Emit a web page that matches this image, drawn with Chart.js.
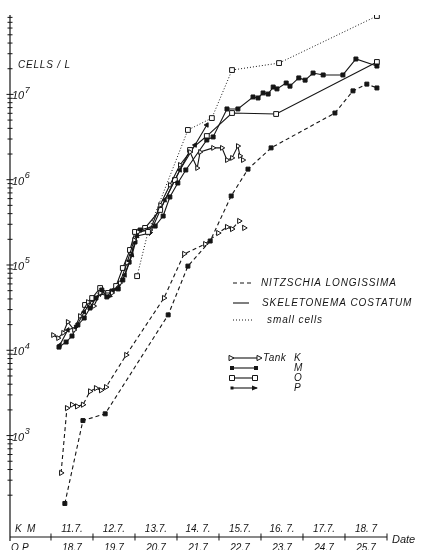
<!DOCTYPE html>
<html>
<head>
<meta charset="utf-8">
<script src="https://cdn.jsdelivr.net/npm/chart.js@4/dist/chart.umd.min.js"></script>
<style>
  html, body { margin: 0; padding: 0; background: #fff; }
  canvas { display: block; }
</style>
</head>
<body>
<canvas id="c" width="424" height="550"></canvas>
<script>
// Culture days (0 = start of 11.7. in tanks K/M, 18.7 in tanks O/P) and cell counts (cells per litre)

// Nitzschia longissima (dashed)
const nitzK_day   = [0.24, 0.38, 0.50, 0.62, 0.76, 0.93, 1.07, 1.19, 1.31, 1.79, 2.69, 3.17, 3.67, 3.98, 4.19, 4.31, 4.48, 4.60];
const nitzK_cells = [365, 2100, 2300, 2200, 2300, 3300, 3600, 3400, 3700, 8800, 41000, 135000, 176000, 237000, 279000, 264000, 328000, 272000];

const nitzM_day   = [0.33, 0.76, 1.29, 2.79, 3.26, 3.79, 4.29, 4.69, 5.24, 6.76, 7.19, 7.52, 7.76];
const nitzM_cells = [160, 1500, 1800, 26000, 97000, 191000, 644000, 1330000, 2360000, 6050000, 11000000, 13200000, 11900000];

// small cells, tank O (dotted)
const smallO_day   = [2.05, 2.31, 3.26, 3.83, 4.31, 5.43, 7.76];
const smallO_cells = [74000, 244000, 3830000, 5280000, 19300000, 23300000, 83000000];

// Skeletonema costatum (solid)
const skelK_day   = [0.05, 0.17, 0.29, 0.40, 0.55, 0.69, 0.88, 1.02, 1.17, 1.45, 1.64, 1.81, 1.98, 2.07, 2.36, 2.60, 2.83, 3.07, 3.31, 3.48, 3.55, 3.86, 4.07, 4.19, 4.31, 4.45, 4.50, 4.57];
const skelK_cells = [15100, 13900, 16000, 21500, 17300, 25200, 36800, 33000, 47000, 47000, 61500, 106000, 196000, 244000, 257000, 505000, 867000, 1490000, 2110000, 1370000, 2110000, 2360000, 2360000, 1700000, 1800000, 2480000, 1900000, 1700000];

const skelM_day   = [0.19, 0.36, 0.50, 0.64, 0.79, 0.93, 1.07, 1.21, 1.33, 1.45, 1.60, 1.71, 1.86, 2.00, 2.12, 2.48, 2.67, 2.83, 3.02, 3.21, 3.71, 3.86, 4.19, 4.45, 4.81, 4.93, 5.05, 5.17, 5.29, 5.38, 5.60, 5.69, 5.90, 6.05, 6.24, 6.48, 6.95, 7.26, 7.76];
const skelM_cells = [10900, 12500, 14700, 19800, 23900, 31300, 41000, 50900, 42200, 49500, 52400, 66700, 108000, 186000, 257000, 286000, 375000, 627000, 914000, 1300000, 2920000, 3170000, 6750000, 6750000, 9330000, 9080000, 10400000, 10100000, 12200000, 11600000, 13600000, 12500000, 15600000, 14700000, 17800000, 16900000, 16900000, 26000000, 21500000];

const skelO_day   = [0.81, 0.98, 1.17, 1.36, 1.55, 1.71, 1.88, 2.00, 2.24, 2.60, 2.95, 3.31, 3.71, 4.31, 5.36, 7.76];
const skelO_cells = [34000, 41000, 53700, 47000, 56700, 92200, 150000, 244000, 272000, 442000, 991000, 2230000, 3250000, 6050000, 5890000, 24000000];

const skelP_day   = [0.21, 0.40, 0.60, 0.79, 0.98, 1.17, 1.40, 1.60, 1.76, 1.93, 2.05, 2.36, 2.71, 3.07, 3.43, 3.71];
const skelP_cells = [11500, 17300, 18800, 28100, 38900, 45700, 43400, 55200, 76400, 131000, 219000, 237000, 578000, 1300000, 2550000, 4380000];

// Date labels: upper row for tanks K/M, lower row for tanks O/P
const datesKM = ['11.7.', '12.7.', '13.7.', '14. 7.', '15.7.', '16. 7.', '17.7.', '18. 7'];
const datesOP = ['18.7', '19.7', '20.7', '21.7', '22.7', '23.7', '24.7', '25.7'];
const decades = [3, 4, 5, 6, 7];

const INK = '#151515';
const FONT = '"Liberation Sans", Arial, sans-serif';

function pts(days, cells) { return days.map((d, i) => ({ x: d, y: cells[i] })); }

// arrowheads follow the direction of the line into each point
function arrowRotation(c) {
  if (c.dataIndex === undefined) return 0;
  const data = c.dataset.data, i = c.dataIndex;
  const xs = c.chart.scales.x, ys = c.chart.scales.y;
  const a = data[i > 0 ? i - 1 : 0], b = data[i > 0 ? i : 1];
  const dx = xs.getPixelForValue(b.x) - xs.getPixelForValue(a.x);
  const dy = ys.getPixelForValue(b.y) - ys.getPixelForValue(a.y);
  return Math.atan2(dy, dx) * 180 / Math.PI + 90;
}

const base = {
  showLine: true, fill: false, tension: 0,
  borderColor: INK, borderWidth: 1.1,
  pointBorderColor: INK, pointBorderWidth: 1
};
const dashed = [4, 3], dotted = [1, 2];

function drawMark(ctx, kind, x, y) {
  ctx.save();
  ctx.setLineDash([]);
  ctx.lineWidth = 1;
  ctx.beginPath();
  if (kind === 'tri') {
    ctx.moveTo(x + 3, y); ctx.lineTo(x - 2, y - 2.6); ctx.lineTo(x - 2, y + 2.6); ctx.closePath();
    ctx.fillStyle = '#fff'; ctx.fill(); ctx.stroke();
  } else if (kind === 'sq') {
    ctx.rect(x - 2, y - 2, 4, 4); ctx.fillStyle = INK; ctx.fill();
  } else if (kind === 'osq') {
    ctx.rect(x - 2.5, y - 2.5, 5, 5); ctx.fillStyle = '#fff'; ctx.fill(); ctx.stroke();
  } else if (kind === 'arrow') {
    ctx.moveTo(x + 1, y); ctx.lineTo(x - 5, y - 2.5); ctx.lineTo(x - 5, y + 2.5); ctx.closePath();
    ctx.fillStyle = INK; ctx.fill();
  } else if (kind === 'dot') {
    ctx.rect(x - 1.5, y - 1.5, 3, 3); ctx.fillStyle = INK; ctx.fill();
  }
  ctx.restore();
}

const decorations = {
  id: 'decorations',
  afterDatasetsDraw(chart) {
    const { ctx, chartArea: a, scales: { x, y } } = chart;
    ctx.save();
    ctx.strokeStyle = INK; ctx.fillStyle = INK; ctx.lineWidth = 1.2;

    // axis lines
    ctx.beginPath();
    ctx.moveTo(a.left, a.top); ctx.lineTo(a.left, a.bottom + 4);
    ctx.moveTo(a.left, a.bottom); ctx.lineTo(a.right, a.bottom);
    ctx.stroke();

    // logarithmic ticks on the cell axis
    ctx.beginPath();
    ctx.lineWidth = 1;
    for (let e = 2; e <= 7; e++) {
      for (let m = 1; m <= 9; m++) {
        const v = m * Math.pow(10, e);
        if (v < 200 || v > y.max) continue;
        const py = y.getPixelForValue(v);
        const len = m === 1 ? 3.5 : 2.5;
        ctx.moveTo(a.left - len, py); ctx.lineTo(a.left + len, py);
      }
    }
    // day boundaries on the date axis
    for (let d = 0; d <= 8; d++) {
      const px = x.getPixelForValue(d);
      ctx.moveTo(px, a.bottom - 3.5); ctx.lineTo(px, a.bottom + 3.5);
    }
    ctx.stroke();

    // decade labels 10^n
    decades.forEach(e => {
      const py = y.getPixelForValue(Math.pow(10, e));
      ctx.font = 'italic 11px ' + FONT;
      ctx.textAlign = 'left'; ctx.textBaseline = 'middle';
      ctx.fillText('10', 12, py + 2);
      const w = ctx.measureText('10').width;
      ctx.font = 'italic 9px ' + FONT;
      ctx.fillText(String(e), 12 + w + 0.5, py - 4);
    });

    // unit label
    ctx.font = 'italic 10px ' + FONT;
    ctx.textAlign = 'left'; ctx.textBaseline = 'middle';
    ctx.letterSpacing = '0.8px';
    ctx.fillText('CELLS / L', 18, 65);

    // date labels
    ctx.letterSpacing = '0px';
    ctx.font = 'italic 10px ' + FONT;
    ctx.textAlign = 'center';
    datesKM.forEach((t, i) => {
      ctx.textBaseline = 'middle';
      ctx.fillText(t, x.getPixelForValue(i + 0.5), a.bottom - 8);
    });
    datesOP.forEach((t, i) => {
      ctx.textBaseline = 'top';
      ctx.fillText(t, x.getPixelForValue(i + 0.5), a.bottom + 6);
    });
    ctx.textAlign = 'left';
    ctx.textBaseline = 'middle';
    ctx.fillText('K', 15, a.bottom - 8);
    ctx.fillText('M', 27, a.bottom - 8);
    ctx.textBaseline = 'top';
    ctx.fillText('O', 11, a.bottom + 6);
    ctx.fillText('P', 22, a.bottom + 6);
    ctx.font = 'italic 11px ' + FONT;
    ctx.textBaseline = 'middle';
    ctx.fillText('Date', a.right + 5, a.bottom + 3);

    // legend: line styles
    ctx.lineWidth = 1.1;
    ctx.font = 'italic 10px ' + FONT;
    ctx.letterSpacing = '0.9px';
    const styles = [
      { dash: dashed, x0: 233, x1: 253, y: 283, text: 'NITZSCHIA LONGISSIMA', tx: 261 },
      { dash: [], x0: 233, x1: 249, y: 303, text: 'SKELETONEMA COSTATUM', tx: 262 },
      { dash: dotted, x0: 233, x1: 252, y: 320, text: 'small cells', tx: 267 }
    ];
    styles.forEach(s => {
      ctx.setLineDash(s.dash);
      ctx.beginPath(); ctx.moveTo(s.x0, s.y); ctx.lineTo(s.x1, s.y); ctx.stroke();
      ctx.setLineDash([]);
      ctx.fillText(s.text, s.tx, s.y);
    });

    // legend: tanks
    ctx.letterSpacing = '0.5px';
    const tanks = [
      { y: 358, x0: 231, x1: 259, a: 'tri', b: 'tri', label: 'K' },
      { y: 368, x0: 232, x1: 256, a: 'sq', b: 'sq', label: 'M' },
      { y: 378, x0: 232, x1: 255, a: 'osq', b: 'osq', label: 'O' },
      { y: 388, x0: 232, x1: 257, a: 'dot', b: 'arrow', label: 'P' }
    ];
    tanks.forEach(t => {
      ctx.beginPath(); ctx.moveTo(t.x0, t.y); ctx.lineTo(t.x1, t.y); ctx.stroke();
      drawMark(ctx, t.a, t.x0, t.y);
      drawMark(ctx, t.b, t.x1, t.y);
      ctx.fillText(t.label, 294, t.y);
    });
    ctx.fillText('Tank', 263, 358);
    ctx.restore();
  }
};

new Chart(document.getElementById('c'), {
  type: 'scatter',
  data: {
    datasets: [
      { ...base, label: 'Nitzschia longissima K', data: pts(nitzK_day, nitzK_cells), borderDash: dashed,
        pointStyle: 'triangle', pointRotation: 90, pointRadius: 3, pointBackgroundColor: '#fff' },
      { ...base, label: 'Nitzschia longissima M', data: pts(nitzM_day, nitzM_cells), borderDash: dashed,
        pointStyle: 'rect', pointRadius: 2.8, pointBackgroundColor: INK },
      { ...base, label: 'small cells O', data: pts(smallO_day, smallO_cells), borderDash: dotted, borderWidth: 1,
        pointStyle: 'rect', pointRadius: 3.4, pointBackgroundColor: '#fff' },
      { ...base, label: 'Skeletonema costatum K', data: pts(skelK_day, skelK_cells),
        pointStyle: 'triangle', pointRotation: 90, pointRadius: 2.8, pointBackgroundColor: '#fff' },
      { ...base, label: 'Skeletonema costatum M', data: pts(skelM_day, skelM_cells),
        pointStyle: 'rect', pointRadius: 2.8, pointBackgroundColor: INK },
      { ...base, label: 'Skeletonema costatum O', data: pts(skelO_day, skelO_cells),
        pointStyle: 'rect', pointRadius: 3.4, pointBackgroundColor: '#fff' },
      { ...base, label: 'Skeletonema costatum P', data: pts(skelP_day, skelP_cells),
        pointStyle: 'triangle', pointRotation: arrowRotation, pointRadius: 2.6, pointBackgroundColor: INK }
    ]
  },
  options: {
    responsive: false,
    animation: false,
    devicePixelRatio: 1,
    layout: { padding: { left: 10, top: 15, right: 37, bottom: 13 } },
    plugins: { legend: { display: false }, tooltip: { enabled: false } },
    scales: {
      x: { type: 'linear', min: -0.976, max: 8, display: false },
      y: { type: 'logarithmic', min: 64.7, max: 8.53e7, display: false }
    }
  },
  plugins: [decorations]
});
</script>
</body>
</html>
